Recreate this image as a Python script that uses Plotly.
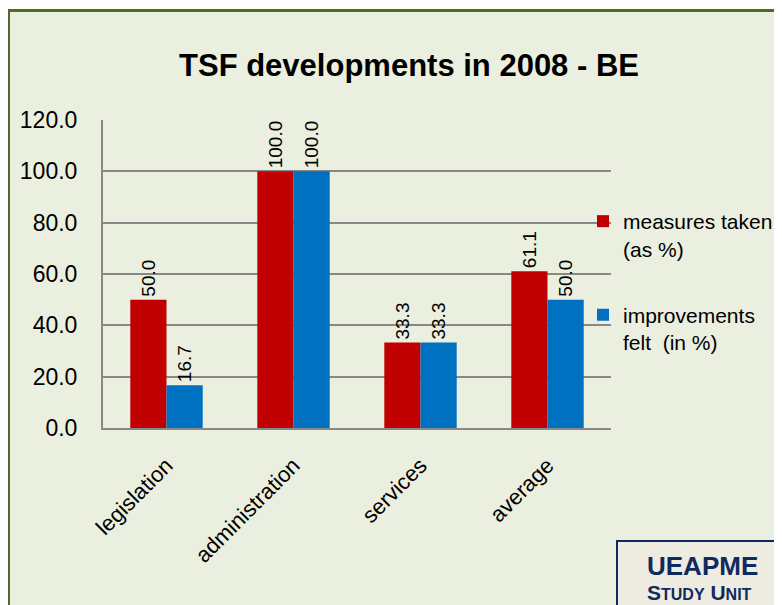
import plotly.graph_objects as go

categories = ["legislation", "administration", "services", "average"]
measures_taken = [50.0, 100.0, 33.3, 61.1]
improvements_felt = [16.7, 100.0, 33.3, 50.0]
series_names = ["measures taken<br>(as %)", "improvements<br>felt  (in %)"]
tick_values = [0, 20, 40, 60, 80, 100, 120]

# page body has an 8px margin; work in screen pixels and convert
OFF = 8
W, H = 782, 605
SL, SR, ST, SB = 103, 611, 120, 428          # plot area in screen pixels
L, T = SL - OFF, ST - OFF
R, B = W - (SR - OFF), H - (SB - OFF)
PW, PH = SR - SL, SB - ST

def px(x):
    return (x - SL) / PW

def py(y):
    return (SB - y) / PH

FONT = "Liberation Sans, Arial, sans-serif"

fig = go.Figure()
fig.add_trace(go.Bar(
    x=categories, y=measures_taken, name=series_names[0],
    marker=dict(color="#C00000", line=dict(width=0)),
    text=[f"{v:.1f}" for v in measures_taken], textposition="outside",
    textangle=-90, textfont=dict(size=19, color="#000000", family=FONT),
    cliponaxis=False, constraintext="none", legendgroup="a",
))
fig.add_trace(go.Bar(
    x=categories, y=improvements_felt, name=series_names[1],
    marker=dict(color="#0070C0", line=dict(width=0)),
    text=[f"{v:.1f}" for v in improvements_felt], textposition="outside",
    textangle=-90, textfont=dict(size=19, color="#000000", family=FONT),
    cliponaxis=False, constraintext="none", legendgroup="b",
))

shapes = [
    dict(type="rect", xref="paper", yref="paper", x0=px(8.5), x1=px(800), y0=py(625), y1=py(10.5),
         line=dict(color="#4F6B28", width=3), fillcolor="#EBEFDF", layer="below"),
    dict(type="rect", xref="paper", yref="paper", x0=px(617), x1=px(800), y0=py(625), y1=py(541),
         line=dict(color="#0F2A5F", width=2), fillcolor="#EEEBE0", layer="below"),
]

annotations = [
    dict(text="<b>UEAPME</b>", xref="paper", yref="paper", x=px(702), y=py(566),
         xanchor="center", yanchor="middle", showarrow=False,
         font=dict(size=26, color="#0F2A5F", family=FONT)),
    dict(text="<b>S<span style='font-size:16px'>TUDY</span> U<span style='font-size:16px'>NIT</span></b>",
         xref="paper", yref="paper", x=px(699), y=py(592),
         xanchor="center", yanchor="middle", showarrow=False,
         font=dict(size=21, color="#0F2A5F", family=FONT)),
]

fig.update_layout(
    width=W, height=H,
    margin=dict(l=L, r=R, t=T, b=B, pad=0),
    paper_bgcolor="#FFFFF0",
    plot_bgcolor="#EEEBE0",
    title=dict(text="<b>TSF developments in 2008 - BE</b>", x=(409 - OFF) / W, xanchor="center",
               y=1 - (65 - OFF) / H, yanchor="middle",
               font=dict(size=31, color="#000000", family=FONT)),
    font=dict(family=FONT, color="#000000"),
    barmode="group", bargap=0.43, bargroupgap=0,
    showlegend=True,
    legend=dict(x=px(583), y=py(201), xanchor="left", yanchor="top", valign="top",
                bgcolor="rgba(0,0,0,0)", font=dict(size=21, color="#000000", family=FONT),
                tracegroupgap=36, itemwidth=30, traceorder="grouped"),
    xaxis=dict(showline=True, linecolor="#888888", linewidth=2, tickangle=-45,
               tickfont=dict(size=22, color="#000000", family=FONT), ticks="",
               ticklabelstandoff=14, showgrid=False, mirror=False),
    yaxis=dict(range=[0, 120], tickvals=tick_values, tickformat=".1f",
               showline=True, linecolor="#888888", linewidth=2,
               showgrid=True, gridcolor="#888888", gridwidth=2,
               tickfont=dict(size=23, color="#000000", family=FONT), ticks="",
               ticklabelstandoff=19, zeroline=False),
    shapes=shapes, annotations=annotations,
)

fig.write_html("out.html")
